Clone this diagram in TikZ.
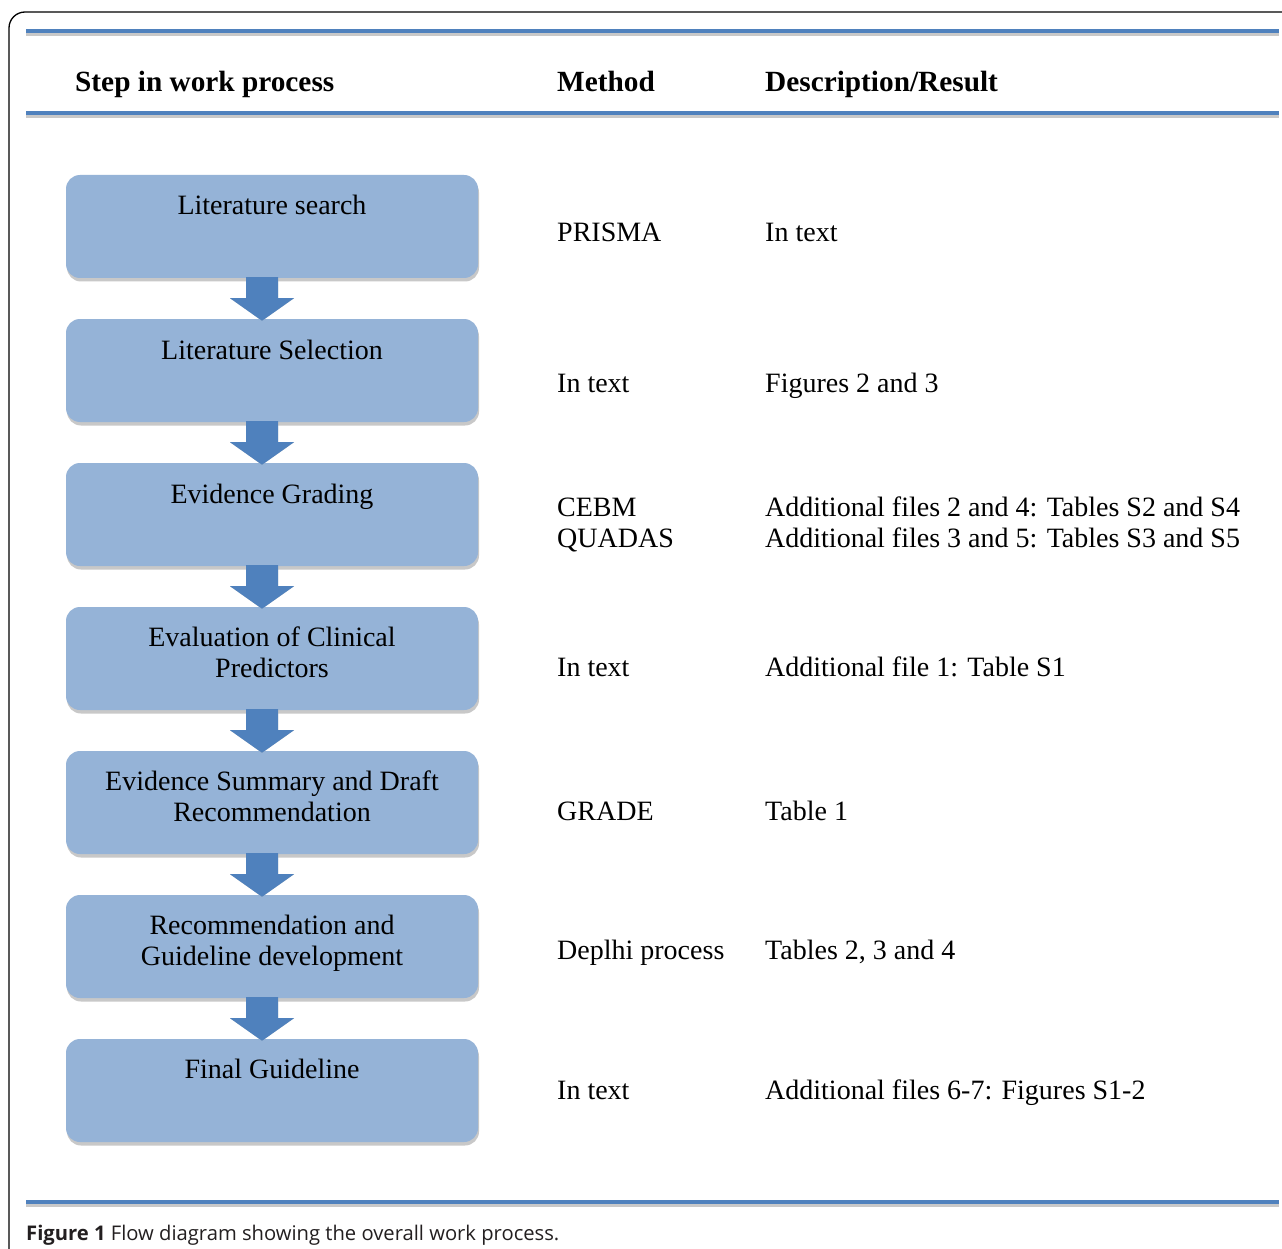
\documentclass[tikz,border=0pt]{standalone}
\usepackage{fontspec}
\setmainfont{Liberation Serif}
\newfontfamily\capfont{Open Sans}
\usetikzlibrary{calc}
\definecolor{boxfill}{HTML}{95B3D7}
\definecolor{arrowblue}{HTML}{4F81BD}
\definecolor{shadowgray}{HTML}{C8C8C8}
\definecolor{capgray}{HTML}{231F20}
\begin{document}
\begin{tikzpicture}[x=1pt,y=-1pt,
  stepbox/.style={fill=boxfill, rounded corners=14pt, minimum width=412pt, minimum height=103pt, inner sep=0pt},
  boxshadow/.style={fill=shadowgray, rounded corners=14pt, minimum width=412pt, minimum height=103pt, inner sep=0pt},
  boxtext/.style={anchor=base, font=\fontsize{28}{33}\selectfont, inner sep=0pt},
  coltext/.style={anchor=base west, font=\fontsize{28}{33}\selectfont, inner sep=0pt},
  headtext/.style={anchor=base west, font=\fontsize{29.3}{34}\selectfont\bfseries, inner sep=0pt},
  bluerule/.style={fill=arrowblue},
  grayrule/.style={fill=shadowgray}]
\useasboundingbox (0,0) rectangle (1282,1249);
\fill[white] (0,0) rectangle (1282,1249);
% frame
\draw[line width=1.3pt, rounded corners=16pt] (9,1249) -- (9,12) -- (1282,12);
% rules
\fill[grayrule] (26,33.3) rectangle (1279,36);
\fill[bluerule] (26,28.7) rectangle (1279,33.3);
\fill[grayrule] (26,115) rectangle (1279,118);
\fill[bluerule] (26,110.7) rectangle (1279,115);
\fill[grayrule] (26,1204) rectangle (1279,1207);
\fill[bluerule] (26,1200) rectangle (1279,1204);
% headers
\node[headtext] (h1) at (75,92) {Step in work process};
\node[headtext] (h2) at (557,92) {Method};
\node[headtext] (h3) at (765,92) {Description/Result};
% boxes
\foreach \i/\t in {1/175,2/319,3/463,4/607,5/751,6/895,7/1039}{
  \node[boxshadow] (s\i) at (273,{\t+51.5+3.5}) {};
  \node[stepbox] (b\i) at (272,{\t+51.5}) {};
}
% arrows
\foreach \a/\b in {1/2,2/3,3/4,4/5,5/6,6/7}{
  \begin{scope}[xshift=1.5pt,yshift=-2pt]
  \fill[shadowgray] ($(b\a.south)+(-26,-1)$) -- ($(b\a.south)+(-26,20)$) -- ($(b\a.south)+(-42,20)$) -- ($(b\b.north)+(-10,2)$) -- ($(b\a.south)+(22,20)$) -- ($(b\a.south)+(6,20)$) -- ($(b\a.south)+(6,-1)$) -- cycle;
  \end{scope}
  \fill[arrowblue] ($(b\a.south)+(-26,-1)$) -- ($(b\a.south)+(-26,20)$) -- ($(b\a.south)+(-42,20)$) -- ($(b\b.north)+(-10,2)$) -- ($(b\a.south)+(22,20)$) -- ($(b\a.south)+(6,20)$) -- ($(b\a.south)+(6,-1)$) -- cycle;
}
% box texts
\node[boxtext] (t1) at (272,215) {Literature search};
\node[boxtext] (t2) at (272,359) {Literature Selection};
\node[boxtext] (t3) at (272,503) {Evidence Grading};
\node[boxtext] (t4a) at (272,646) {Evaluation of Clinical};
\node[boxtext] (t4b) at (272,677) {Predictors};
\node[boxtext] (t5a) at (272,790) {Evidence Summary and Draft};
\node[boxtext] (t5b) at (272,821) {Recommendation};
\node[boxtext] (t6a) at (272,934) {Recommendation and};
\node[boxtext] (t6b) at (272,965) {Guideline development};
\node[boxtext] (t7) at (272,1078) {Final Guideline};
% method column
\node[coltext] (m1) at (557,242) {PRISMA};
\node[coltext] (m2) at (557,392) {In text};
\node[coltext] (m3a) at (557,516) {CEBM};
\node[coltext] (m3b) at (557,547) {QUADAS};
\node[coltext] (m4) at (557,676) {In text};
\node[coltext] (m5) at (557,820) {GRADE};
\node[coltext] (m6) at (557,959) {Deplhi process};
\node[coltext] (m7) at (557,1099) {In text};
% description column
\node[coltext] (d1) at (765,242) {In text};
\node[coltext] (d2) at (765,392) {Figures 2 and 3};
\node[coltext] (d3a) at (765,516) {Additional files 2 and 4: Tables S2 and S4};
\node[coltext] (d3b) at (765,547) {Additional files 3 and 5: Tables S3 and S5};
\node[coltext] (d4) at (765,676) {Additional file 1: Table S1};
\node[coltext] (d5) at (765,820) {Table 1};
\node[coltext] (d6) at (765,959) {Tables 2, 3 and 4};
\node[coltext] (d7) at (765,1099) {Additional files 6-7: Figures S1-2};
% caption
\node[anchor=base west, inner sep=0pt, text=capgray, font=\capfont\fontsize{20.2}{23}\selectfont] (cap) at (26,1240) {\textbf{Figure 1} Flow diagram showing the overall work process.};
\end{tikzpicture}
\end{document}
